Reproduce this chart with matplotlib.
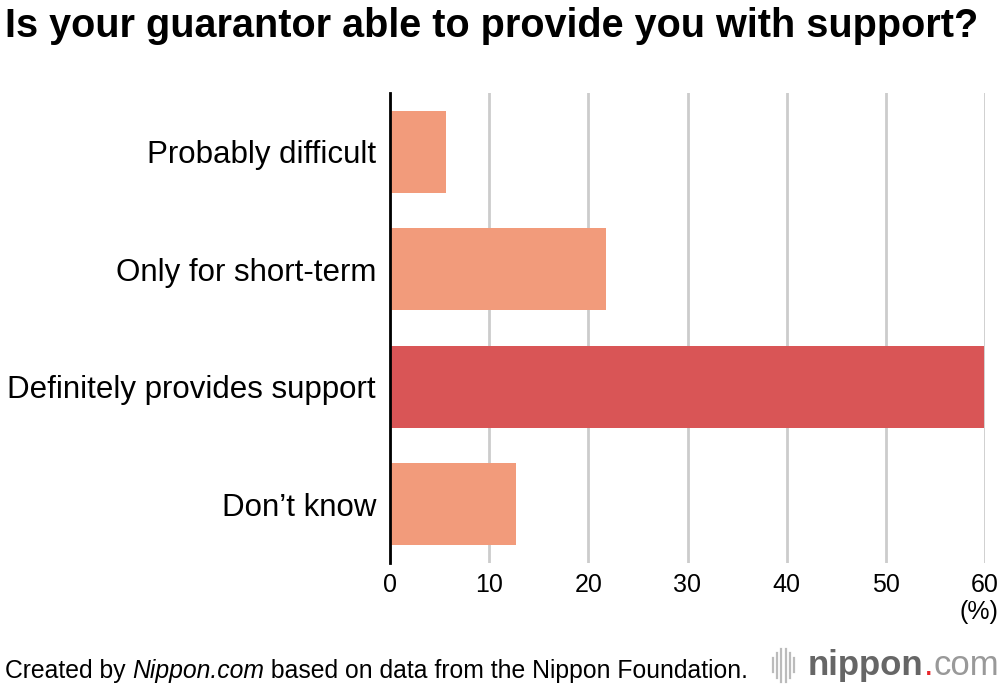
import matplotlib
matplotlib.use("Agg")
import matplotlib.pyplot as plt
from matplotlib.lines import Line2D

plt.rcParams['font.family'] = ['Liberation Sans', 'DejaVu Sans']

categories = ['Probably difficult', 'Only for short-term', 'Definitely provides support', "Don\u2019t know"]
values = [5.6, 21.8, 59.9, 12.7]
colors = ['#F29B7B', '#F29B7B', '#D95556', '#F29B7B']
xticks = [0, 10, 20, 30, 40, 50, 60]

fig = plt.figure(figsize=(10, 6.9), dpi=100)
ax = fig.add_axes([0.39, 0.184, 0.595, 0.681])

ypos = list(range(len(categories)))
ax.barh(ypos, values, height=0.7, color=colors, zorder=3)
ax.set_ylim(len(categories) - 0.5, -0.5)
ax.set_xlim(0, 60)

ax.set_yticks(ypos)
ax.set_yticklabels(categories, fontsize=22.5)
ax.set_xticks(xticks)
ax.set_xticklabels([str(t) for t in xticks], fontsize=18)
ax.tick_params(axis='both', length=0)
ax.tick_params(axis='y', pad=10)
ax.tick_params(axis='x', pad=7)

ax.grid(axis='x', color='#cccccc', linewidth=2, zorder=0)
for s in ['top', 'right', 'bottom']:
    ax.spines[s].set_visible(False)
ax.spines['left'].set_linewidth(2)
ax.spines['left'].set_zorder(4)

fig.text(0.998, 0.113, '(%)', fontsize=18, ha='right', va='center')

fig.text(0.005, 0.962, 'Is your guarantor able to provide you with support?',
         fontsize=28.5, fontweight='bold', ha='left', va='center')

renderer = fig.canvas.get_renderer()


def put_row(pieces, x, y):
    # place text pieces one after another on one line
    for txt, kw in pieces:
        t = fig.text(x, y, txt, ha='left', va='baseline', **kw)
        bb = t.get_window_extent(renderer=renderer)
        x = x + bb.width / fig.bbox.width
    return x


put_row([('Created by ', dict(fontsize=17.8)),
         ('Nippon.com', dict(fontsize=17.8, style='italic')),
         (' based on data from the Nippon Foundation.', dict(fontsize=17.8))],
        0.005, 0.017)

# logo
for i, h in enumerate([0.010, 0.018, 0.024, 0.024, 0.018, 0.010]):
    x = 0.773 + i * 0.0042
    fig.add_artist(Line2D([x, x], [0.036 - h, 0.036 + h], color='#bbbbbb', linewidth=1.6))
put_row([('nippon', dict(fontsize=25, fontweight='bold', color='#666666')),
         ('.', dict(fontsize=25, color='#e8262b')),
         ('com', dict(fontsize=25, color='#999999'))],
        0.808, 0.022)

fig.savefig('out.png', dpi=100)
